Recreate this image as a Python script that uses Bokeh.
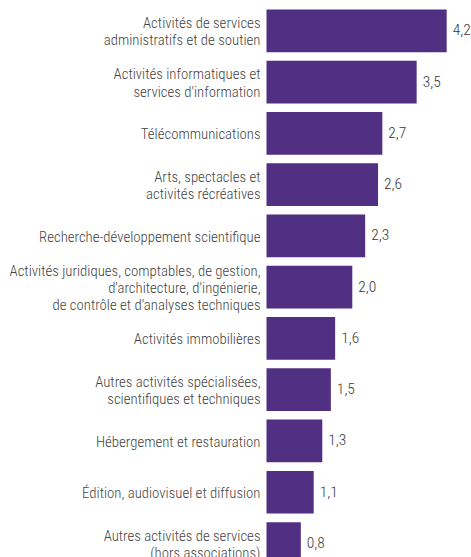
from bokeh.plotting import figure
from bokeh.models import ColumnDataSource, Range1d
from bokeh.core.properties import value
from bokeh.embed import file_html
from bokeh.resources import INLINE

categories = [
    "Activités de services\nadministratifs et de soutien",
    "Activités informatiques et\nservices d'information",
    "Télécommunications",
    "Arts, spectacles et\nactivités récréatives",
    "Recherche-développement scientifique",
    "Activités juridiques, comptables, de gestion,\nd'architecture, d'ingénierie,\nde contrôle et d'analyses techniques",
    "Activités immobilières",
    "Autres activités spécialisées,\nscientifiques et techniques",
    "Hébergement et restauration",
    "Édition, audiovisuel et diffusion",
    "Autres activités de services\n(hors associations)",
]
values = [4.2, 3.5, 2.7, 2.6, 2.3, 2.0, 1.6, 1.5, 1.3, 1.1, 0.8]
value_labels = [f"{v:.1f}".replace(".", ",") for v in values]

pos = list(range(len(categories)))
src = ColumnDataSource(dict(y=pos, v=values, cat=categories, lab=value_labels, zero=[0] * len(pos)))

W, H = 471, 557
scale = 42.9
x0 = 266
y0 = 30.3
step = 51.27
p = figure(width=W, height=H, output_backend="svg", toolbar_location=None,
           x_range=Range1d(-x0 / scale, (W - x0) / scale),
           y_range=Range1d((H - y0) / step, -y0 / step),
           min_border=0, min_border_left=0, min_border_right=0,
           min_border_top=0, min_border_bottom=0)
p.axis.visible = False
p.grid.visible = False
p.outline_line_color = None
p.background_fill_color = "white"
p.border_fill_color = "white"

p.hbar(y="y", left=0, right="v", height=0.833, source=src, color="#512F82", line_color=None)

font = value("Roboto Condensed Light, Roboto Condensed")
p.text(x="zero", y="y", text="cat", source=src, x_offset=-6, y_offset=1,
       text_align="right", text_baseline="middle", text_font=font,
       text_font_size="14.8px", text_color="#444444", text_line_height=0.96)
p.text(x="v", y="y", text="lab", source=src, x_offset=6, y_offset=-1,
       text_align="left", text_baseline="middle", text_font=font,
       text_font_size="15.5px", text_color="#3a3a3a")

open("out.html", "w").write(file_html(p, INLINE))
